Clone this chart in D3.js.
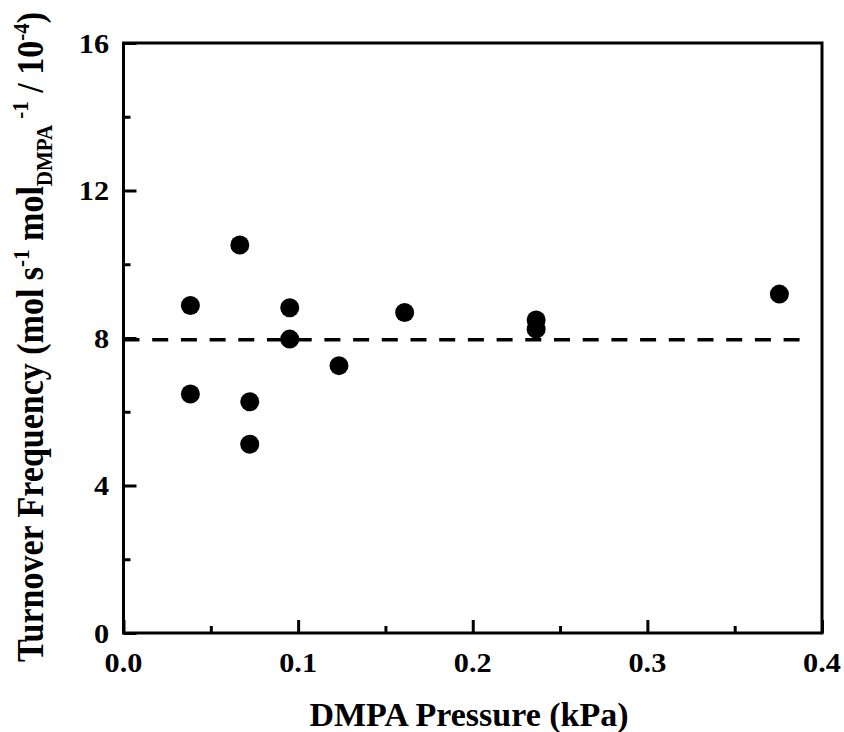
<!DOCTYPE html>
<html>
<head>
<meta charset="utf-8">
<script src="https://cdn.jsdelivr.net/npm/d3@7"></script>
<style>
  html, body { margin: 0; padding: 0; background: #fff; }
  svg { display: block; }
  text { font-family: "Liberation Serif", "Times New Roman", serif; font-weight: bold; fill: #000; }
</style>
</head>
<body>
<svg id="chart" width="844" height="732"></svg>
<script>
// ---- data ----
const pressure = [0.0383, 0.0383, 0.0666, 0.0723, 0.0723, 0.0952, 0.0952, 0.1234, 0.161, 0.2363, 0.2363, 0.3756];
const tof      = [8.88,   6.48,   10.52,  6.27,   5.12,   8.82,   7.97,   7.25,   8.69,  8.49,   8.24,   9.19];
const meanTOF = 7.95;
const meanRange = [0, 0.39];
const xTicks = [0.0, 0.1, 0.2, 0.3, 0.4];
const xMinor = [0.05, 0.15, 0.25, 0.35];
const yTicks = [0, 4, 8, 12, 16];
const yMinor = [2, 6, 10, 14];

const svg = d3.select("#chart");
const L = 123.5, R = 822, T = 43, B = 633;
const x = d3.scaleLinear().domain([0, 0.4]).range([L, R]);
const y = d3.scaleLinear().domain([0, 16]).range([B, T]);

// frame
svg.append("rect").attr("x", L).attr("y", T).attr("width", R - L).attr("height", B - T)
  .attr("fill", "none").attr("stroke", "#000").attr("stroke-width", 3);

// axes (ticks inward, labels drawn separately)
const xAxis = d3.axisBottom(x).tickValues(xTicks).tickFormat("").tickSize(-13).tickSizeOuter(0);
const gx = svg.append("g").attr("transform", `translate(0,${B})`).call(xAxis);
const xAxisMinor = d3.axisBottom(x).tickValues(xMinor).tickFormat("").tickSize(-7).tickSizeOuter(0);
const gxm = svg.append("g").attr("transform", `translate(0,${B})`).call(xAxisMinor);
const yAxis = d3.axisLeft(y).tickValues(yTicks).tickFormat("").tickSize(-13).tickSizeOuter(0);
const gy = svg.append("g").attr("transform", `translate(${L},0)`).call(yAxis);
const yAxisMinor = d3.axisLeft(y).tickValues(yMinor).tickFormat("").tickSize(-7).tickSizeOuter(0);
const gym = svg.append("g").attr("transform", `translate(${L},0)`).call(yAxisMinor);

[gx, gxm, gy, gym].forEach(g => {
  g.select(".domain").remove();
  g.selectAll(".tick text").remove();
  g.selectAll(".tick line").attr("stroke", "#000").attr("stroke-width", 3);
});

const fx = d3.format(".1f"), fy = d3.format("d");
svg.append("g").selectAll("text").data(xTicks).join("text")
  .attr("transform", d => `translate(${x(d)},672) scale(1.08,1)`)
  .attr("text-anchor", "middle").attr("font-size", 28).text(fx);
svg.append("g").selectAll("text").data(yTicks).join("text")
  .attr("transform", d => `translate(109,${y(d) + 9.5}) scale(1.08,1)`)
  .attr("text-anchor", "end").attr("font-size", 28).text(fy);

// dashed mean line
svg.append("line")
  .attr("x1", x(meanRange[0])).attr("x2", x(meanRange[1]))
  .attr("y1", y(meanTOF)).attr("y2", y(meanTOF))
  .attr("stroke", "#000").attr("stroke-width", 3.5).attr("stroke-dasharray", "16,12.7");

// points
svg.append("g").selectAll("circle").data(pressure.map((p, i) => [p, tof[i]]))
  .join("circle")
  .attr("cx", d => x(d[0])).attr("cy", d => y(d[1])).attr("r", 9.5).attr("fill", "#000");

// x label
svg.append("text").attr("transform", "translate(469,726)").attr("text-anchor", "middle")
  .attr("font-size", 34).text("DMPA Pressure (kPa)");

// y label
const yl = svg.append("text").attr("transform", "translate(43,337) rotate(-90) scale(1,1.1)")
  .attr("text-anchor", "middle").attr("font-size", 34);
yl.append("tspan").text("Turnover Frequency (mol s");
yl.append("tspan").attr("font-size", 21).attr("dy", -13).text("-1");
yl.append("tspan").attr("dy", 13).text(" mol");
yl.append("tspan").attr("font-size", 21).attr("dy", 8).text("DMPA");
yl.append("tspan").attr("font-size", 21).attr("dx", 6).attr("dy", -22).text("-1");
yl.append("tspan").attr("dy", 14).text(" / 10");
yl.append("tspan").attr("font-size", 21).attr("dy", -13).text("-4");
yl.append("tspan").attr("dy", 13).text(")");
</script>
</body>
</html>
